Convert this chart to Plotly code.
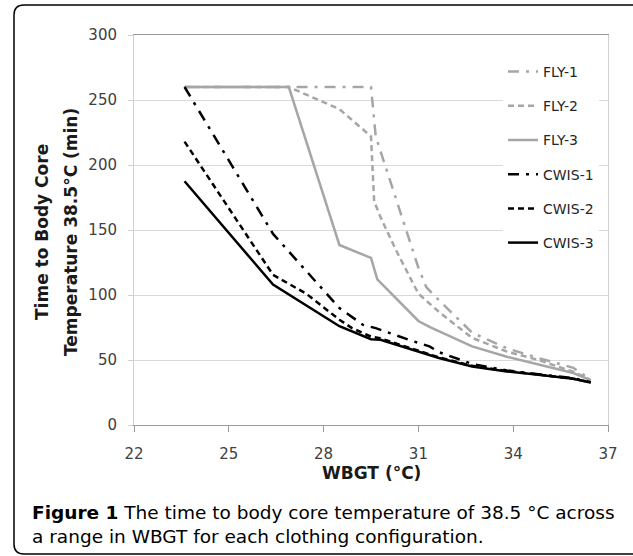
import plotly.graph_objects as go

# ---------------- data ----------------
fly1_x = [23.6, 29.5, 29.65, 30.4, 31.0, 31.25, 31.65, 32.7, 33.8, 34.8, 35.9, 36.45]
fly1_y = [260, 260, 222, 165, 121, 106, 96, 71, 59, 51.5, 44, 35]

fly2_x = [23.6, 26.9, 28.5, 29.5, 29.6, 29.8, 30.3, 31.0, 31.65, 32.7, 33.8, 34.8, 35.9, 36.45]
fly2_y = [260, 260, 243, 222, 172, 160, 134, 101, 87, 67, 56.5, 50, 41, 34.5]

fly3_x = [23.6, 26.9, 28.5, 29.5, 29.7, 31.0, 31.35, 32.0, 32.7, 33.8, 34.8, 35.9, 36.45]
fly3_y = [260, 260, 138.5, 128.5, 112, 80, 75.5, 68, 60.5, 52.5, 46.5, 40, 34.5]

cwis1_x = [23.6, 26.4, 28.5, 29.25, 29.65, 30.2, 30.7, 31.35, 31.65, 32.7, 33.8, 34.8, 35.9, 36.45]
cwis1_y = [260, 147, 90, 77, 74.5, 69.5, 65.5, 60.5, 56, 47, 42, 39, 36, 33]

cwis2_x = [23.6, 26.4, 27.45, 28.5, 28.9, 29.5, 29.75, 31.0, 31.65, 32.7, 33.8, 34.8, 35.9, 36.45]
cwis2_y = [218, 115.5, 101, 81, 74.5, 68, 67, 57.5, 52, 45.5, 41.5, 38.8, 35.5, 32.8]

cwis3_x = [23.6, 26.4, 28.5, 29.5, 29.8, 31.0, 31.65, 32.7, 33.8, 34.8, 35.9, 36.45]
cwis3_y = [187.5, 108, 76, 66, 65.5, 56.5, 51.5, 45, 41.2, 38.6, 35.5, 32.7]

series_names = ["FLY-1", "FLY-2", "FLY-3", "CWIS-1", "CWIS-2", "CWIS-3"]

x_ticks = [22, 25, 28, 31, 34, 37]
y_ticks = [0, 50, 100, 150, 200, 250, 300]

x_title = "WBGT (°C)"
y_title_lines = ["Time to Body Core", "Temperature 38.5°C (min)"]
caption_lines = ["<b>Figure 1</b> The time to body core temperature of 38.5 °C across",
                 "a range in WBGT for each clothing configuration."]

# ---------------- layout helpers ----------------
W, H = 633, 556
ML, MR, MT, MB = 134, 25, 35, 131
PW, PH = W - ML - MR, H - MT - MB


def px(x):
    return (x - ML) / PW


def py(y):
    return (H - MB - y) / PH


GRAY = "#a6a6a6"
DASHDOT = "11px,7px,3px,7px"
DASH = "6px,4px"
FONT = "DejaVu Sans"

styles = [
    (fly1_x, fly1_y, GRAY, DASHDOT),
    (fly2_x, fly2_y, GRAY, DASH),
    (fly3_x, fly3_y, GRAY, "solid"),
    (cwis1_x, cwis1_y, "black", DASHDOT),
    (cwis2_x, cwis2_y, "black", DASH),
    (cwis3_x, cwis3_y, "black", "solid"),
]

fig = go.Figure()
for name, (xs, ys, col, dash) in zip(series_names, styles):
    fig.add_trace(go.Scatter(
        x=xs, y=ys, mode="lines", name=name, legendgroup=name,
        line=dict(color=col, width=2.5, dash=dash),
    ))

annotations = []
for line, xc in zip(y_title_lines, [42, 71]):
    annotations.append(dict(
        text="<b>%s</b>" % line, x=px(xc), y=py(232), xref="paper", yref="paper",
        xanchor="center", yanchor="middle", textangle=-90, showarrow=False,
        font=dict(family=FONT, size=17, color="#1a1a1a"),
    ))
annotations.append(dict(
    text="<b>%s</b>" % x_title, x=px(371), y=py(473), xref="paper", yref="paper",
    xanchor="center", yanchor="middle", showarrow=False,
    font=dict(family=FONT, size=17, color="#1a1a1a"),
))
annotations.append(dict(
    text="<br>".join(caption_lines), x=px(30), y=py(524), xref="paper", yref="paper",
    xanchor="left", yanchor="middle", align="left", showarrow=False,
    font=dict(family=FONT, size=18.5, color="black"),
))

# rounded frame around the figure (right side runs off the image)
fl, ft, fb, fr, rad = 14, 5, 554, 660, 10
path = (f"M {px(fr)} {py(ft)} L {px(fl + rad)} {py(ft)} "
        f"Q {px(fl)} {py(ft)} {px(fl)} {py(ft + rad)} "
        f"L {px(fl)} {py(fb - rad)} "
        f"Q {px(fl)} {py(fb)} {px(fl + rad)} {py(fb)} "
        f"L {px(fr)} {py(fb)}")

fig.update_layout(
    width=W, height=H,
    margin=dict(l=ML, r=MR, t=MT, b=MB, pad=0),
    paper_bgcolor="white", plot_bgcolor="white",
    font=dict(family=FONT, size=15, color="#404040"),
    showlegend=True,
    legend=dict(
        x=px(503), y=py(56), xanchor="left", yanchor="top",
        bgcolor="white", borderwidth=0, tracegroupgap=13,
        font=dict(family=FONT, size=14, color="#262626"),
        itemwidth=30,
    ),
    annotations=annotations,
    shapes=[dict(type="path", path=path, xref="paper", yref="paper",
                 line=dict(color="black", width=1.5))],
    xaxis=dict(
        range=[22, 37], tickvals=x_ticks, ticktext=[str(v) for v in x_ticks],
        showgrid=False, zeroline=False, showline=True, linecolor="#9a9a9a",
        linewidth=1, mirror=True, ticks="outside", ticklen=6, tickcolor="#9a9a9a",
        ticklabelstandoff=9, tickfont=dict(family=FONT, size=15, color="#404040"),
    ),
    yaxis=dict(
        range=[0, 300], tickvals=y_ticks, ticktext=[str(v) for v in y_ticks],
        showgrid=True, gridcolor="#d9d9d9", gridwidth=1, zeroline=False,
        showline=True, linecolor="#d0d0d0", linewidth=1, mirror=True,
        ticks="outside", ticklen=5, tickcolor="#d0d0d0",
        ticklabelstandoff=8, tickfont=dict(family=FONT, size=15, color="#404040"),
    ),
)

fig.write_html(
    "out.html",
    config={"displayModeBar": False},
    post_script="document.body.style.margin='0px';document.body.style.overflow='hidden';",
)
